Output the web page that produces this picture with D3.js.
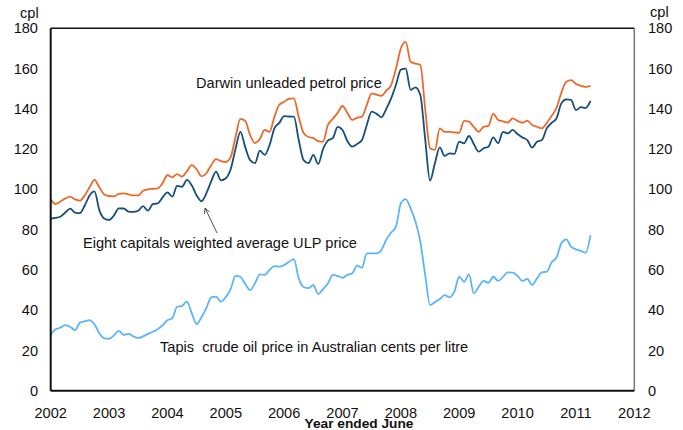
<!DOCTYPE html>
<html>
<head>
<meta charset="utf-8">
<script src="https://cdn.jsdelivr.net/npm/d3@7"></script>
<style>
  body { margin: 0; background: #fff; }
  svg text { font-family: "Liberation Sans", Arial, sans-serif; fill: #111; }
</style>
</head>
<body>
<svg width="683" height="430"></svg>
<script>
// monthly, starting Jan 2002
var startYear = 2002;

var darwin = [95.1, 92.7, 94, 95.5, 96.4, 95, 94.4, 97, 101, 104.7, 101, 97.5,
  96.7, 96.5, 97.8, 98, 97.5, 97, 97, 99.3, 100, 100.3, 100.5, 103,
  107, 106, 107.6, 106.3, 109, 112, 110, 106.5, 108, 112, 115, 114,
  113.6, 116, 126, 135, 134, 127, 123, 125, 129.5, 128.6, 136, 142,
  143.5, 145, 145.2, 136, 128, 126, 125.5, 124, 123.7, 132, 135, 138,
  141.4, 138, 134.5, 135.5, 136.1, 142, 147.7, 147, 146.4, 149, 151.8, 160,
  170, 173.3, 163.4, 162.5, 161.8, 140, 120.4, 119.6, 130.3, 128.6, 128.6, 128.3,
  128.1, 134, 133.6, 131, 128.6, 131, 131.5, 137.6, 134.5, 133.8, 133.2, 135.3,
  134, 133.1, 134.1, 132, 131.1, 130.3, 133, 136.5, 140.5, 148, 153.5, 154.3,
  152.3, 151.5, 150.9, 151.4];

var eightCapitals = [85.4, 85.8, 86.4, 88.5, 90.4, 88.5, 88.2, 92, 97, 99, 89.7, 85.5,
  84.8, 87, 90.6, 90.5, 89, 88.8, 89.4, 91.7, 89.4, 92.7, 93, 96,
  98.5, 96.4, 101.7, 101.3, 104.7, 102, 97, 94.1, 98, 104, 108.8, 104.5,
  105.5, 110, 120, 128.6, 121, 114.5, 113, 119.2, 117.1, 122, 130.3, 133,
  136.4, 136.2, 136.1, 124.5, 114.5, 113, 117.1, 112.6, 120, 124.2, 125.4, 131,
  129.5, 124, 121.2, 122.5, 124.5, 132, 138.6, 137.5, 135.8, 140, 145.2, 152,
  159.5, 160, 149.4, 150.7, 146.9, 125, 104.3, 113, 120.9, 116.6, 117.9, 117.6,
  123.7, 122.9, 126.5, 122.5, 118.7, 120.4, 121.2, 125.8, 122.9, 128.6, 127.8, 129.5,
  127.5, 125.8, 124.5, 120.7, 123.7, 124.5, 130.3, 133, 135.3, 142.7, 144.7, 144.4,
  139.4, 140.8, 140.4, 143.9];

var tapis = [27.7, 30.5, 31.3, 32.6, 31.8, 30.1, 33.8, 34.5, 35.1, 33, 28.5, 26,
  25.8, 27.5, 29.7, 27.7, 28.2, 27, 26.2, 27, 28.2, 29.3, 30.5, 32.5,
  35, 36, 41.7, 42.1, 44.2, 38.5, 33.1, 36.5, 41, 46.4, 46.7, 44.2,
  46.5, 50.5, 57, 56.6, 53, 50, 53.3, 57.8, 57.5, 60, 61.9, 61.6,
  62.4, 64, 65.3, 55.8, 51.5, 50.9, 52.5, 48, 50.5, 53.3, 57.5, 57,
  56.1, 57.5, 58.3, 62.1, 61.1, 68.2, 68.2, 68.2, 69.9, 75, 78.5, 81.5,
  93.1, 95.2, 90.6, 84, 74, 57.5, 42.6, 44, 45.5, 47.5, 46.4, 49.2,
  56.6, 54.1, 57.8, 48.4, 51.5, 54.5, 53.6, 56.6, 54.5, 56.5, 58.8, 58.6,
  57, 54.5, 55.5, 52.5, 55.8, 58.8, 59.1, 63.8, 66.1, 73.2, 75.2, 71.5,
  70.2, 69.4, 68.6, 77.3];

var yTicks = [0, 20, 40, 60, 80, 100, 120, 140, 160, 180];
var xTicks = [2002, 2003, 2004, 2005, 2006, 2007, 2008, 2009, 2010, 2011, 2012];

var svg = d3.select("svg");
// plot edges (note: "top" is taken by window.top)
var pLeft = 50.7, pRight = 634.3, pTop = 28.3, pBottom = 390.7;
var fs = 14.6;

var x = d3.scaleLinear().domain([2002, 2012]).range([pLeft, pRight]);
var y = d3.scaleLinear().domain([0, 180]).range([pBottom, pTop]);

var line = d3.line()
  .x(function(d, i) { return x(startYear + i / 12); })
  .y(function(d) { return y(d); })
  .curve(d3.curveMonotoneX);

// frame
svg.append("line").attr("x1", pLeft).attr("x2", pRight).attr("y1", pTop).attr("y2", pTop)
  .attr("stroke", "#111").attr("stroke-width", 1.5);
svg.append("line").attr("x1", pRight).attr("x2", pRight).attr("y1", pTop).attr("y2", pBottom)
  .attr("stroke", "#777").attr("stroke-width", 1.5);

var series = [
  { values: tapis, color: "#5db5f7" },
  { values: darwin, color: "#ea6a2c" },
  { values: eightCapitals, color: "#164f7c" }
];

svg.append("g").selectAll("path")
  .data(series)
  .enter()
  .append("path")
  .attr("d", function(d) { return line(d.values); })
  .attr("fill", "none")
  .attr("stroke", function(d) { return d.color; })
  .attr("stroke-width", 1.8);

svg.append("line").attr("x1", pLeft).attr("x2", pLeft).attr("y1", pTop).attr("y2", pBottom)
  .attr("stroke", "#111").attr("stroke-width", 2);
svg.append("line").attr("x1", pLeft).attr("x2", pRight).attr("y1", pBottom).attr("y2", pBottom)
  .attr("stroke", "#111").attr("stroke-width", 2);

// y labels both sides
var yl = svg.append("g").selectAll("text").data(yTicks).enter();
yl.append("text")
  .attr("x", 38).attr("y", function(d) { return y(d); })
  .attr("dy", "0.35em").attr("text-anchor", "end")
  .attr("font-size", fs).text(function(d) { return d; });
yl.append("text")
  .attr("x", 648).attr("y", function(d) { return y(d); })
  .attr("dy", "0.35em").attr("text-anchor", "start")
  .attr("font-size", fs).text(function(d) { return d; });

svg.append("text").attr("x", 20).attr("y", 18).attr("font-size", fs).text("cpl");
svg.append("text").attr("x", 650).attr("y", 17).attr("font-size", fs).text("cpl");

// x labels
svg.append("g").selectAll("text").data(xTicks).enter()
  .append("text")
  .attr("x", function(d) { return x(d); })
  .attr("y", 418)
  .attr("text-anchor", "middle")
  .attr("font-size", fs)
  .text(function(d) { return d; });

svg.append("text").attr("x", 359).attr("y", 428)
  .attr("text-anchor", "middle").attr("font-size", 13.7).attr("font-weight", "bold")
  .text("Year ended June");

// annotations
svg.append("text").attr("x", 196).attr("y", 88).attr("font-size", fs)
  .text("Darwin unleaded petrol price");
svg.append("text").attr("x", 83).attr("y", 248).attr("font-size", fs)
  .text("Eight capitals weighted average ULP price");
svg.append("text").attr("x", 160).attr("y", 352).attr("font-size", fs)
  .style("white-space", "pre")
  .text("Tapis  crude oil price in Australian cents per litre");

// arrow
svg.append("line").attr("x1", 217).attr("y1", 233).attr("x2", 205.5).attr("y2", 209)
  .attr("stroke", "#222").attr("stroke-width", 0.8);
svg.append("path").attr("d", "M205,208 L204.5,214 M205,208 L209.5,212")
  .attr("stroke", "#222").attr("stroke-width", 0.8).attr("fill", "none");
</script>
</body>
</html>
